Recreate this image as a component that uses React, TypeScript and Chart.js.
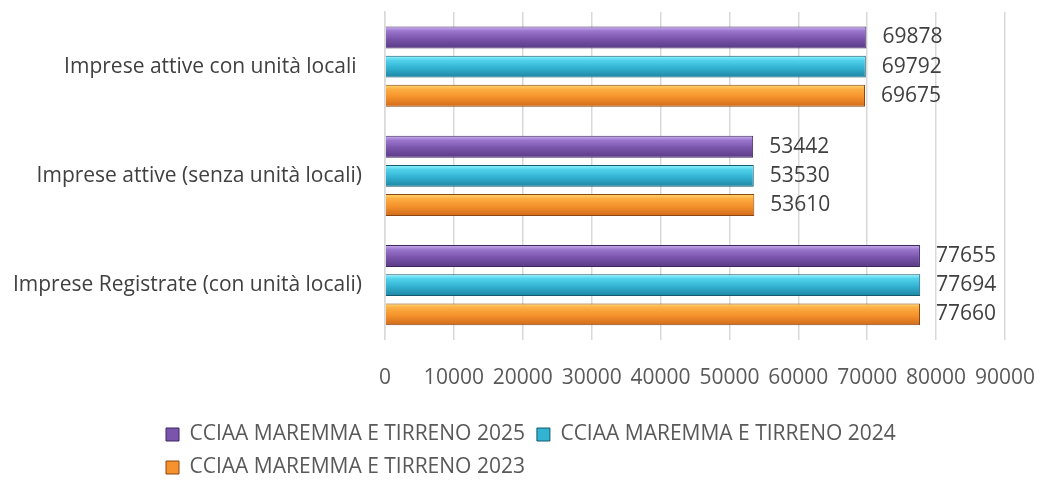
import React, { useEffect, useRef } from "react";
import { Chart, registerables } from "chart.js";

Chart.register(...registerables);

const categories = [
  "Imprese attive con unità locali ",
  "Imprese attive (senza unità locali)",
  "Imprese Registrate (con unità locali)",
];
const seriesNames = [
  "CCIAA MAREMMA E TIRRENO 2025",
  "CCIAA MAREMMA E TIRRENO 2024",
  "CCIAA MAREMMA E TIRRENO 2023",
];
const values2025 = [69878, 53442, 77655];
const values2024 = [69792, 53530, 77694];
const values2023 = [69675, 53610, 77660];
const xTickValues = [0, 10000, 20000, 30000, 40000, 50000, 60000, 70000, 80000, 90000];

const FONT = "'Open Sans', 'DejaVu Sans', sans-serif";

// [top highlight, upper, mid, bottom]
const purpleStops = ["#cfb2f2", "#9a76cc", "#7a55ab", "#5a3a85"];
const cyanStops = ["#9af6ff", "#52d3ec", "#33b3d2", "#1d85a2"];
const orangeStops = ["#ffd873", "#fbae42", "#f5922b", "#cf6b1c"];
const borderColors = ["#3d2660", "#135a6e", "#8a4510"];

const gradientPlugin = {
  id: "barGradient",
  beforeDatasetsDraw(chart: any) {
    const ctx = chart.ctx;
    const stopsList = [purpleStops, cyanStops, orangeStops];
    chart.data.datasets.forEach((ds: any, di: number) => {
      const meta = chart.getDatasetMeta(di);
      const stops = stopsList[di];
      meta.data.forEach((el: any) => {
        const top = el.y - el.height / 2;
        const bottom = el.y + el.height / 2;
        const g = ctx.createLinearGradient(0, top, 0, bottom);
        g.addColorStop(0, stops[0]);
        g.addColorStop(0.2, stops[1]);
        g.addColorStop(0.55, stops[2]);
        g.addColorStop(1, stops[3]);
        el.options = { ...el.options, backgroundColor: g };
      });
    });
  },
};

const valueLabelPlugin = {
  id: "valueLabels",
  afterDatasetsDraw(chart: any) {
    const ctx = chart.ctx;
    ctx.save();
    ctx.font = `21px ${FONT}`;
    ctx.fillStyle = "#404040";
    ctx.textAlign = "left";
    ctx.textBaseline = "middle";
    chart.data.datasets.forEach((ds: any, di: number) => {
      const meta = chart.getDatasetMeta(di);
      meta.data.forEach((el: any, i: number) => {
        ctx.fillText(String(ds.data[i]), el.x + 16, el.y);
      });
    });
    ctx.restore();
  },
};

const legendShiftPlugin = {
  id: "legendShift",
  afterLayout(chart: any) {
    const lg = chart.legend;
    if (lg) {
      lg.left = 154;
      lg.top -= 5;
      lg.bottom -= 5;
    }
  },
};

export default function App() {
  const canvasRef = useRef<HTMLCanvasElement | null>(null);

  useEffect(() => {
    document.body.style.margin = "0";
    const canvas = canvasRef.current;
    if (!canvas) return;
    const chart = new Chart(canvas, {
      type: "bar",
      data: {
        labels: categories,
        datasets: [
          {
            label: seriesNames[0],
            data: values2025,
            backgroundColor: purpleStops[2],
            borderColor: borderColors[0],
            borderWidth: 1,
          },
          {
            label: seriesNames[1],
            data: values2024,
            backgroundColor: cyanStops[2],
            borderColor: borderColors[1],
            borderWidth: 1,
          },
          {
            label: seriesNames[2],
            data: values2023,
            backgroundColor: orangeStops[2],
            borderColor: borderColors[2],
            borderWidth: 1,
          },
        ],
      },
      options: {
        indexAxis: "y",
        animation: false,
        responsive: true,
        maintainAspectRatio: false,
        datasets: {
          bar: { categoryPercentage: 0.8, barPercentage: 0.75 },
        },
        layout: { padding: { top: 12, right: 35, bottom: -10, left: 0 } },
        scales: {
          x: {
            min: 0,
            max: 90000,
            afterBuildTicks: (scale: any) => {
              scale.ticks = xTickValues.map((v) => ({ value: v }));
            },
            afterFit: (scale: any) => {
              scale.paddingLeft = 0;
              scale.paddingRight = 0;
            },
            grid: { color: "#d9d9d9", lineWidth: 1.5, drawTicks: false },
            border: { display: false },
            ticks: {
              color: "#595959",
              font: { size: 21, family: FONT },
              padding: 26,
              maxRotation: 0,
              autoSkip: false,
              callback: (v: any) => String(v),
            },
          },
          y: {
            grid: { display: false },
            border: { display: true, color: "#d9d9d9", width: 1.5 },
            afterFit: (scale: any) => {
              scale.width = 385;
              scale.paddingTop = 0;
              scale.paddingBottom = 0;
            },
            ticks: {
              color: "#404040",
              font: { size: 21, family: FONT },
              padding: 15,
            },
          },
        },
        plugins: {
          tooltip: { enabled: false },
          legend: {
            position: "bottom",
            align: "start",
            labels: {
              color: "#595959",
              font: { size: 21, family: FONT },
              boxWidth: 13,
              boxHeight: 13,
              padding: 12,
            },
          },
        },
      },
      plugins: [gradientPlugin, valueLabelPlugin, legendShiftPlugin],
    });
    return () => chart.destroy();
  }, []);

  return (
    <div style={{ width: 1040, height: 483, position: "relative" }}>
      <canvas ref={canvasRef} />
    </div>
  );
}
